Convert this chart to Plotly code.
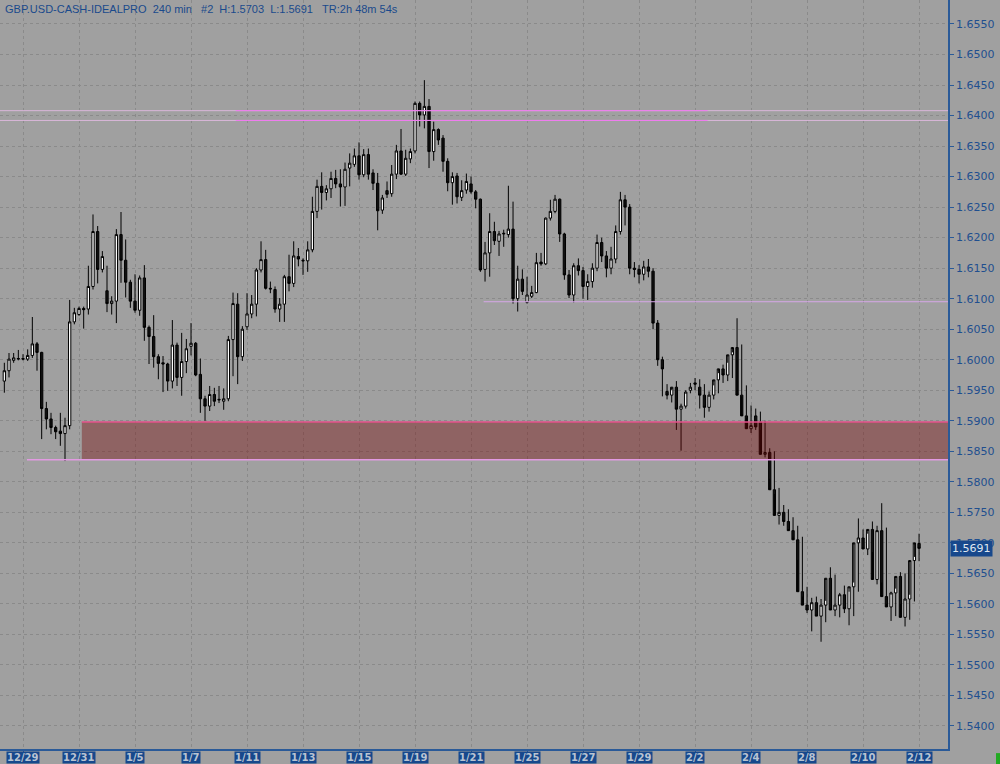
import plotly.graph_objects as go

# ---------------- data (240-min bars, GBP.USD) ----------------
opens = [
    1.5965, 1.5982, 1.5999, 1.6001, 1.6002, 1.6001, 1.6007, 1.6026, 1.6012, 1.5920,
    1.5903, 1.5889, 1.5883, 1.5879, 1.5892, 1.6062, 1.6074, 1.6084, 1.6083, 1.6120,
    1.6210, 1.6148, 1.6113, 1.6092, 1.6096, 1.6205, 1.6163, 1.6127, 1.6096, 1.6081,
    1.6134, 1.6053, 1.6038, 1.6005, 1.5995, 1.5993, 1.5965, 1.6024, 1.5971, 1.5997,
    1.6022, 1.6027, 1.5976, 1.5936, 1.5924, 1.5943, 1.5934, 1.5932, 1.5936, 1.6033,
    1.6091, 1.6005, 1.6054, 1.6075, 1.6091, 1.6147, 1.6164, 1.6117, 1.6115, 1.6083,
    1.6091, 1.6136, 1.6125, 1.6169, 1.6163, 1.6162, 1.6180, 1.6243, 1.6284, 1.6274,
    1.6280, 1.6297, 1.6288, 1.6283, 1.6314, 1.6320, 1.6334, 1.6303, 1.6336, 1.6306,
    1.6289, 1.6245, 1.6277, 1.6272, 1.6304, 1.6342, 1.6304, 1.6329, 1.6342, 1.6420,
    1.6401, 1.6415, 1.6341, 1.6377, 1.6363, 1.6325, 1.6290, 1.6301, 1.6266, 1.6278,
    1.6288, 1.6275, 1.6263, 1.6148, 1.6175, 1.6210, 1.6194, 1.6206, 1.6205, 1.6214,
    1.6100, 1.6132, 1.6094, 1.6104, 1.6110, 1.6160, 1.6157, 1.6232, 1.6243, 1.6263,
    1.6206, 1.6139, 1.6106, 1.6154, 1.6146, 1.6120, 1.6128, 1.6150, 1.6192, 1.6170,
    1.6150, 1.6165, 1.6210, 1.6262, 1.6250, 1.6150, 1.6148, 1.6140, 1.6152, 1.6145,
    1.6060, 1.6000, 1.5948, 1.5942, 1.5955, 1.5919, 1.5924, 1.5950, 1.5962, 1.5955,
    1.5942, 1.5922, 1.5942, 1.5967, 1.5985, 1.5975, 1.6008, 1.6020, 1.5942, 1.5908,
    1.5887, 1.5908, 1.5898, 1.5845, 1.5848, 1.5787, 1.5745, 1.5750, 1.5735, 1.5720,
    1.5705, 1.5620, 1.5598, 1.5590, 1.5602, 1.5580, 1.5598, 1.5642, 1.5590, 1.5598,
    1.5615, 1.5592, 1.5628, 1.5700, 1.5708, 1.5690, 1.5722, 1.5640, 1.5720, 1.5612,
    1.5595, 1.5618, 1.5645, 1.5578, 1.5608, 1.5671, 1.5699,
]
highs = [
    1.5995, 1.6011, 1.6011, 1.6016, 1.6009, 1.6017, 1.6070, 1.6029, 1.6013, 1.5931,
    1.5913, 1.5892, 1.5913, 1.5905, 1.6098, 1.6085, 1.6087, 1.6087, 1.6154, 1.6238,
    1.6219, 1.6178, 1.6154, 1.6104, 1.6214, 1.6242, 1.6197, 1.6131, 1.6140, 1.6138,
    1.6155, 1.6056, 1.6073, 1.6009, 1.6006, 1.5995, 1.6065, 1.6028, 1.6044, 1.6034,
    1.6060, 1.6029, 1.6002, 1.5941, 1.5957, 1.5954, 1.5957, 1.5953, 1.6039, 1.6110,
    1.6109, 1.6055, 1.6109, 1.6106, 1.6150, 1.6194, 1.6180, 1.6128, 1.6120, 1.6101,
    1.6139, 1.6172, 1.6194, 1.6183, 1.6166, 1.6194, 1.6267, 1.6295, 1.6307, 1.6286,
    1.6308, 1.6311, 1.6312, 1.6323, 1.6338, 1.6346, 1.6356, 1.6345, 1.6346, 1.6312,
    1.6306, 1.6270, 1.6292, 1.6319, 1.6352, 1.6378, 1.6344, 1.6346, 1.6423, 1.6423,
    1.6458, 1.6427, 1.6390, 1.6379, 1.6368, 1.6330, 1.6307, 1.6306, 1.6294, 1.6305,
    1.6300, 1.6278, 1.6264, 1.6193, 1.6240, 1.6226, 1.6211, 1.6213, 1.6285, 1.6259,
    1.6154, 1.6148, 1.6136, 1.6121, 1.6175, 1.6175, 1.6233, 1.6262, 1.6270, 1.6264,
    1.6208, 1.6147, 1.6158, 1.6166, 1.6152, 1.6140, 1.6158, 1.6205, 1.6200, 1.6178,
    1.6185, 1.6220, 1.6275, 1.6270, 1.6255, 1.6160, 1.6155, 1.6162, 1.6165, 1.6150,
    1.6065, 1.6005, 1.5960, 1.5950, 1.5965, 1.5928, 1.5950, 1.5962, 1.5970, 1.5968,
    1.5960, 1.5948, 1.5958, 1.5978, 1.5992, 1.5995, 1.6012, 1.6068, 1.6025, 1.5958,
    1.5925, 1.5920, 1.5915, 1.5900, 1.5855, 1.5850, 1.5790, 1.5762, 1.5755, 1.5742,
    1.5728, 1.5710, 1.5628, 1.5610, 1.5612, 1.5608, 1.5605, 1.5660, 1.5648, 1.5618,
    1.5630, 1.5620, 1.5635, 1.5740, 1.5722, 1.5715, 1.5735, 1.5728, 1.5765, 1.5725,
    1.5620, 1.5625, 1.5652, 1.5650, 1.5615, 1.5677, 1.5715, 1.5703,
]
lows = [
    1.5946, 1.5971, 1.5995, 1.5999, 1.5999, 1.5998, 1.6003, 1.5982, 1.5870, 1.5886,
    1.5878, 1.5870, 1.5859, 1.5834, 1.5886, 1.6058, 1.6072, 1.6051, 1.6074, 1.6115,
    1.6125, 1.6143, 1.6078, 1.6074, 1.6060, 1.6126, 1.6102, 1.6085, 1.6077, 1.6072,
    1.6031, 1.5993, 1.5987, 1.5968, 1.5947, 1.5949, 1.5953, 1.5957, 1.5941, 1.5978,
    1.6007, 1.5973, 1.5913, 1.5900, 1.5916, 1.5924, 1.5929, 1.5918, 1.5932, 1.5973,
    1.5960, 1.5998, 1.6049, 1.6068, 1.6071, 1.6143, 1.6115, 1.6109, 1.6077, 1.6062,
    1.6062, 1.6112, 1.6119, 1.6153, 1.6139, 1.6144, 1.6176, 1.6232, 1.6246, 1.6261,
    1.6265, 1.6281, 1.6251, 1.6252, 1.6284, 1.6316, 1.6295, 1.6299, 1.6295, 1.6278,
    1.6212, 1.6239, 1.6265, 1.6267, 1.6296, 1.6303, 1.6301, 1.6322, 1.6338, 1.6382,
    1.6379, 1.6314, 1.6326, 1.6352, 1.6308, 1.6276, 1.6254, 1.6256, 1.6260, 1.6272,
    1.6272, 1.6248, 1.6144, 1.6128, 1.6136, 1.6188, 1.6170, 1.6185, 1.6200, 1.6092,
    1.6079, 1.6106, 1.6092, 1.6101, 1.6109, 1.6154, 1.6155, 1.6228, 1.6240, 1.6193,
    1.6131, 1.6101, 1.6094, 1.6138, 1.6100, 1.6098, 1.6118, 1.6145, 1.6160, 1.6135,
    1.6140, 1.6158, 1.6205, 1.6220, 1.6140, 1.6135, 1.6125, 1.6130, 1.6135, 1.6050,
    1.5990, 1.5940, 1.5935, 1.5930, 1.5885, 1.5851, 1.5920, 1.5945, 1.5950, 1.5920,
    1.5905, 1.5915, 1.5935, 1.5945, 1.5962, 1.5965, 1.5970, 1.6000, 1.5940, 1.5905,
    1.5880, 1.5885, 1.5885, 1.5840, 1.5805, 1.5780, 1.5730, 1.5728, 1.5722, 1.5710,
    1.5672, 1.5612, 1.5585, 1.5555, 1.5580, 1.5538, 1.5570, 1.5592, 1.5580, 1.5578,
    1.5585, 1.5565, 1.5580, 1.5620, 1.5690, 1.5680, 1.5685, 1.5632, 1.5635, 1.5600,
    1.5572, 1.5580, 1.5600, 1.5563, 1.5574, 1.5604, 1.5670, 1.5691,
]
closes = [
    1.5982, 1.6001, 1.6003, 1.6002, 1.6001, 1.6007, 1.6026, 1.6012, 1.5920, 1.5903,
    1.5889, 1.5882, 1.5879, 1.5892, 1.6062, 1.6077, 1.6084, 1.6082, 1.6120, 1.6210,
    1.6148, 1.6169, 1.6092, 1.6096, 1.6205, 1.6163, 1.6127, 1.6096, 1.6081, 1.6134,
    1.6053, 1.6038, 1.6005, 1.5994, 1.5993, 1.5965, 1.6024, 1.5971, 1.5997, 1.6018,
    1.6027, 1.5975, 1.5936, 1.5924, 1.5943, 1.5932, 1.5935, 1.5936, 1.6033, 1.6092,
    1.6005, 1.6050, 1.6075, 1.6091, 1.6147, 1.6164, 1.6117, 1.6116, 1.6083, 1.6091,
    1.6136, 1.6125, 1.6170, 1.6165, 1.6162, 1.6180, 1.6243, 1.6284, 1.6274, 1.6280,
    1.6297, 1.6288, 1.6283, 1.6312, 1.6322, 1.6334, 1.6303, 1.6336, 1.6304, 1.6289,
    1.6244, 1.6265, 1.6271, 1.6304, 1.6342, 1.6304, 1.6330, 1.6341, 1.6420, 1.6401,
    1.6415, 1.6341, 1.6377, 1.6360, 1.6325, 1.6290, 1.6300, 1.6267, 1.6277, 1.6292,
    1.6275, 1.6263, 1.6147, 1.6175, 1.6210, 1.6195, 1.6206, 1.6207, 1.6214, 1.6100,
    1.6132, 1.6112, 1.6106, 1.6110, 1.6159, 1.6157, 1.6232, 1.6243, 1.6263, 1.6206,
    1.6139, 1.6106, 1.6154, 1.6146, 1.6120, 1.6128, 1.6150, 1.6192, 1.6170, 1.6150,
    1.6165, 1.6210, 1.6262, 1.6250, 1.6150, 1.6148, 1.6140, 1.6152, 1.6145, 1.6060,
    1.6000, 1.5985, 1.5942, 1.5955, 1.5919, 1.5924, 1.5947, 1.5955, 1.5960, 1.5942,
    1.5922, 1.5942, 1.5967, 1.5985, 1.5975, 1.6008, 1.6020, 1.5942, 1.5908, 1.5887,
    1.5892, 1.5890, 1.5845, 1.5848, 1.5787, 1.5745, 1.5750, 1.5735, 1.5720, 1.5705,
    1.5620, 1.5598, 1.5590, 1.5602, 1.5580, 1.5598, 1.5642, 1.5590, 1.5598, 1.5615,
    1.5592, 1.5628, 1.5700, 1.5708, 1.5690, 1.5722, 1.5640, 1.5720, 1.5612, 1.5595,
    1.5618, 1.5645, 1.5578, 1.5608, 1.5671, 1.5700, 1.5691,
]

date_labels = ["12/29", "12/31", "1/5", "1/7", "1/11", "1/13", "1/15", "1/19", "1/21",
               "1/25", "1/27", "1/29", "2/2", "2/4", "2/8", "2/10", "2/12"]
date_bars = [4 + 12 * k for k in range(len(date_labels))]

price_ticks = [round(1.5400 + 0.005 * k, 4) for k in range(24)]

# horizontal levels drawn on the chart
zone_top, zone_bottom, zone_start = 1.5898, 1.5836, 16.6
zone_bottom_line_start = 4.85
resist_levels = [1.6408, 1.6392]
resist_seg = [49.6, 150.7]
support_level, support_start = 1.6095, 102.7

header = ("GBP.USD-CASH-IDEALPRO\u00a0\u00a0240 min\u00a0\u00a0\u00a0#2\u00a0\u00a0H:1.5703"
          "\u00a0\u00a0L:1.5691\u00a0\u00a0\u00a0TR:2h 48m 54s")
last_price = 1.5691

# ---------------- figure ----------------
n = len(closes)
xs = list(range(n))
x_lo, x_hi = -0.93, 202.2
y_lo, y_hi = 1.53623, 1.65893

BG = "#a0a0a0"
NAVY = "#2a5a98"
LBL = "#1f4f8f"

fig = go.Figure()
fig.add_trace(go.Candlestick(
    x=xs, open=opens, high=highs, low=lows, close=closes,
    increasing=dict(line=dict(color="#000000", width=1), fillcolor="#ffffff"),
    decreasing=dict(line=dict(color="#000000", width=1), fillcolor="#111111"),
    whiskerwidth=0, hoverinfo="skip", showlegend=False,
))

shapes = []
for lv in resist_levels:
    shapes.append(dict(type="line", xref="x", yref="y", x0=x_lo, x1=x_hi, y0=lv, y1=lv,
                       line=dict(color="#d9b6d9", width=1)))
    shapes.append(dict(type="line", xref="x", yref="y", x0=resist_seg[0], x1=resist_seg[1],
                       y0=lv, y1=lv, line=dict(color="#f07af0", width=1)))
shapes.append(dict(type="line", xref="x", yref="y", x0=support_start, x1=x_hi,
                   y0=support_level, y1=support_level, line=dict(color="#d6a6e6", width=1)))
shapes.append(dict(type="rect", xref="x", yref="y", x0=zone_start, x1=x_hi,
                   y0=zone_bottom, y1=zone_top, fillcolor="rgba(118,8,8,0.40)",
                   line=dict(width=0), layer="above"))
shapes.append(dict(type="line", xref="x", yref="y", x0=zone_start, x1=x_hi,
                   y0=zone_top, y1=zone_top, line=dict(color="#e4508a", width=1.5)))
shapes.append(dict(type="line", xref="x", yref="y", x0=zone_bottom_line_start, x1=x_hi,
                   y0=zone_bottom, y1=zone_bottom, line=dict(color="#e29ae2", width=1.5)))
shapes.append(dict(type="rect", xref="paper", yref="paper", x0=1.0506, x1=1.06,
                   y0=-0.0215, y1=-0.0055, fillcolor="#22aa22", line=dict(width=0)))

annotations = [
    dict(xref="paper", yref="paper", x=0, y=1, xanchor="left", yanchor="top",
         xshift=3, yshift=-1, showarrow=False, text=header,
         font=dict(family="Liberation Sans", size=11, color="#1a4a8c")),
    dict(xref="paper", yref="y", x=1, y=last_price, xanchor="left", yanchor="middle",
         xshift=2, showarrow=False, text="1.5691", bgcolor="#17488c", borderpad=1,
         font=dict(family="DejaVu Sans", size=11, color="#dfe6f0")),
]
for lab, b in zip(date_labels, date_bars):
    annotations.append(dict(xref="x", yref="paper", x=b, y=0, xanchor="center",
                            yanchor="top", yshift=-2, showarrow=False,
                            text="<b>" + lab + "</b>", bgcolor="#17488c", borderpad=0,
                            font=dict(family="DejaVu Sans", size=10, color="#b9c3d2")))

fig.update_layout(
    width=1000, height=764,
    margin=dict(l=0, r=52, t=0, b=15, pad=0, autoexpand=False),
    paper_bgcolor=BG, plot_bgcolor=BG,
    shapes=shapes, annotations=annotations,
    showlegend=False,
    xaxis=dict(range=[x_lo, x_hi], rangeslider=dict(visible=False),
               tickmode="array", tickvals=date_bars, showticklabels=False,
               ticks="outside", ticklen=3, tickcolor=NAVY,
               showgrid=True, gridcolor="#8a8a8a", griddash="3px,3px", gridwidth=1,
               showline=True, linecolor=NAVY, linewidth=1.5, zeroline=False,
               fixedrange=True, automargin=False),
    yaxis=dict(range=[y_lo, y_hi], side="right", tickmode="array",
               tickvals=price_ticks, ticktext=["%.4f" % v for v in price_ticks],
               ticks="outside", ticklen=4, tickcolor=NAVY,
               tickfont=dict(family="DejaVu Sans", size=11, color=LBL),
               showgrid=True, gridcolor="#8a8a8a", griddash="3px,3px", gridwidth=1,
               showline=True, linecolor=NAVY, linewidth=1.5, zeroline=False,
               fixedrange=True, automargin=False),
)

fig.write_html(
    "out.html",
    config={"displayModeBar": False},
    post_script="document.body.style.margin='0';document.body.style.overflow='hidden';",
)
